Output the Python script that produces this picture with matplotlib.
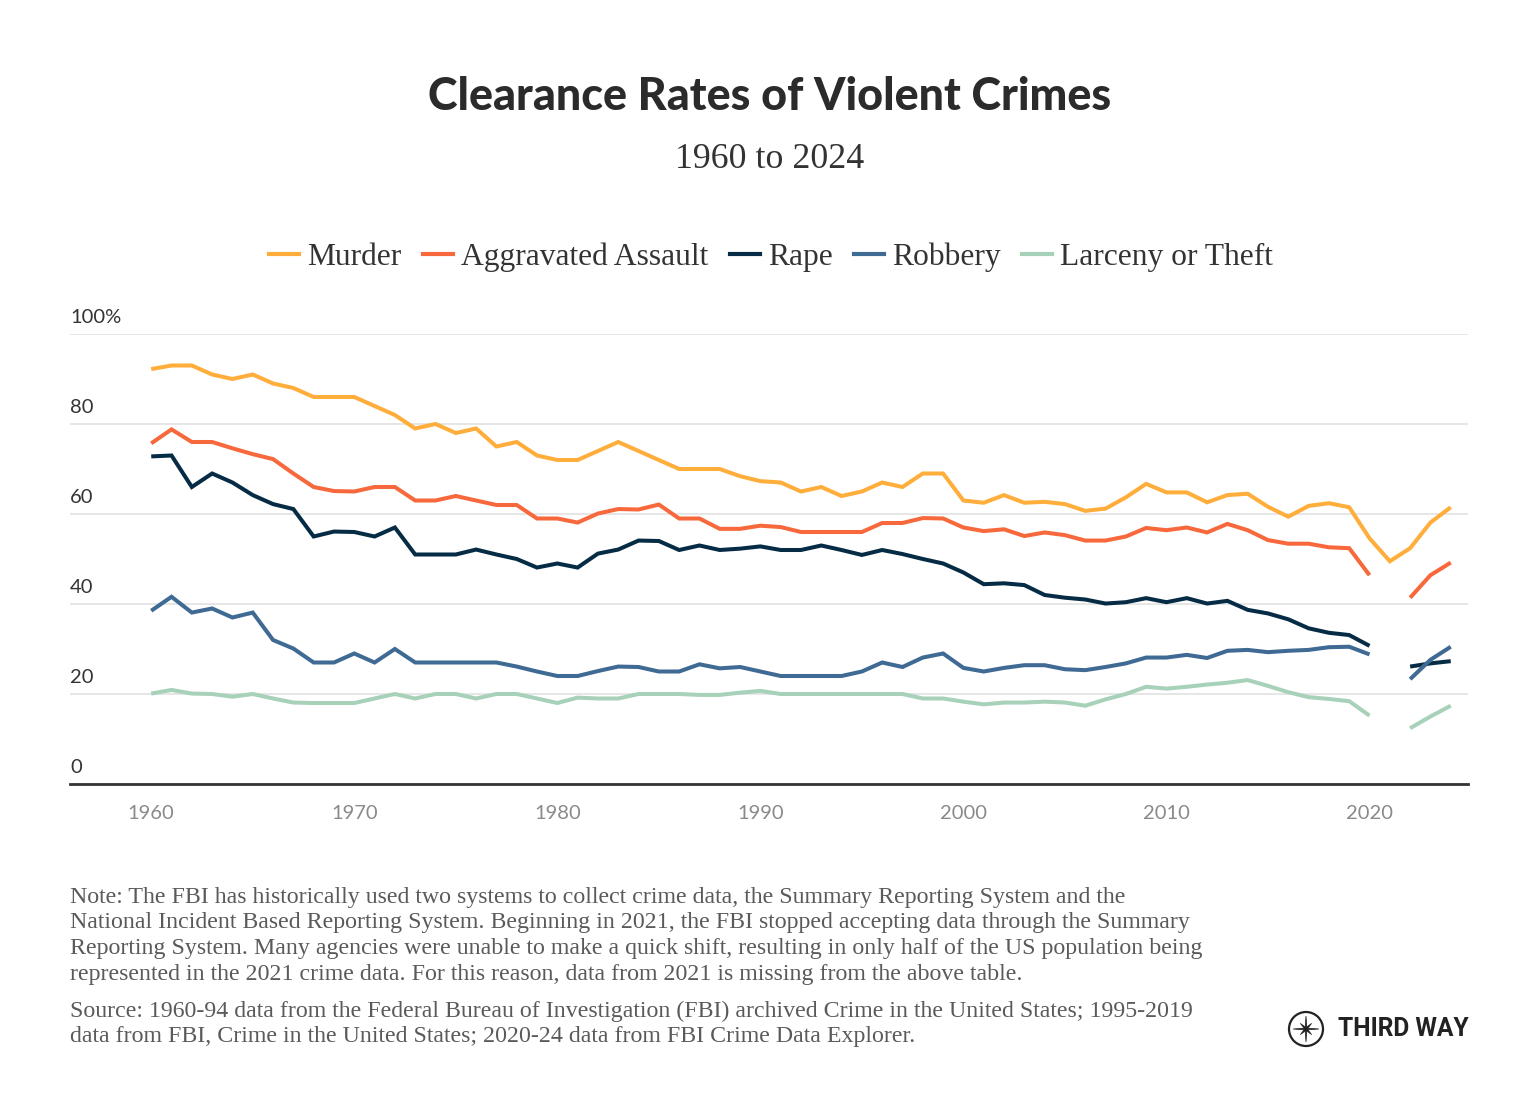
import numpy as np
import matplotlib
matplotlib.use("Agg")
import matplotlib.pyplot as plt
from matplotlib.lines import Line2D
from matplotlib.patches import Circle, Polygon

nan = np.nan
years = list(range(1960, 2025))

murder = [92.2, 93, 93, 91, 90, 91, 89, 88, 86, 86,
          86, 84, 82, 79, 80, 78, 79, 75, 76, 73,
          72, 72, 74, 76, 74, 72, 70, 70, 70, 68.4,
          67.3, 67, 65, 66, 64, 65, 67, 66, 69, 69,
          63, 62.5, 64.2, 62.5, 62.7, 62.2, 60.7, 61.2, 63.7, 66.7,
          64.8, 64.8, 62.6, 64.2, 64.5, 61.6, 59.4, 61.8, 62.4, 61.5,
          54.6, 49.5, 52.4, 58.1, 61.5]
assault = [75.7, 78.8, 76, 76, 74.6, 73.3, 72.2, 69, 66, 65.1,
           65, 66, 66, 63, 63, 64, 63, 62, 62, 59,
           59, 58.1, 60.1, 61.1, 61, 62.1, 59, 59, 56.7, 56.7,
           57.4, 57.1, 56, 56, 56, 56, 58, 58, 59.1, 59,
           57, 56.2, 56.6, 55.1, 55.9, 55.3, 54.1, 54.1, 55, 56.9,
           56.4, 57, 55.9, 57.8, 56.4, 54.2, 53.4, 53.4, 52.6, 52.4,
           46.4, nan, 41.4, 46.4, 49.2]
rape = [72.8, 73, 66, 69, 67, 64.2, 62.2, 61.1, 55, 56.1,
        56, 55, 57, 51, 51, 51, 52.1, 51, 50, 48.1,
        49, 48.1, 51.2, 52.1, 54.1, 54, 52, 53, 52, 52.3,
        52.8, 52, 52, 53, 52, 50.9, 52, 51.1, 50, 49,
        47, 44.4, 44.6, 44.2, 42, 41.4, 41, 40.1, 40.4, 41.3,
        40.4, 41.3, 40.1, 40.7, 38.7, 37.9, 36.6, 34.6, 33.6, 33.1,
        30.7, nan, 26.1, 26.8, 27.3]
robbery = [38.5, 41.6, 38.1, 39, 37, 38.1, 32, 30.1, 27, 27,
           29, 27, 30, 27, 27, 27, 27, 27, 26.1, 25,
           24, 24, 25.1, 26.1, 26, 25, 25, 26.6, 25.7, 26,
           25, 24, 24, 24, 24, 25, 27, 26, 28.1, 29,
           25.8, 25, 25.8, 26.4, 26.4, 25.5, 25.3, 26, 26.8, 28.1,
           28.1, 28.7, 28, 29.6, 29.8, 29.3, 29.6, 29.8, 30.4, 30.5,
           28.8, nan, 23.3, 27.6, 30.5]
larceny = [20.1, 20.9, 20.1, 20, 19.4, 20, 19, 18.1, 18, 18,
           18, 19, 20, 19, 20, 20, 19, 20, 20, 19,
           18, 19.2, 19, 19, 20, 20, 20, 19.8, 19.8, 20.3,
           20.7, 20, 20, 20, 20, 20, 20, 20, 19, 19,
           18.3, 17.7, 18.1, 18.1, 18.3, 18.1, 17.4, 18.8, 20, 21.6,
           21.2, 21.6, 22.1, 22.5, 23.1, 21.8, 20.4, 19.3, 18.9, 18.4,
           15.2, nan, 12.4, 15, 17.4]

series_names = ["Murder", "Aggravated Assault", "Rape", "Robbery", "Larceny or Theft"]
series_values = [murder, assault, rape, robbery, larceny]
colors = ["#FFAD3B", "#F7693C", "#062C45", "#3F6A93", "#A8D1B9"]

y_ticks = [0, 20, 40, 60, 80, 100]
y_tick_labels = ["0", "20", "40", "60", "80", "100%"]
x_ticks = [1960, 1970, 1980, 1990, 2000, 2010, 2020]

title = "Clearance Rates of Violent Crimes"
subtitle = "1960 to 2024"
note_lines = [
    "Note: The FBI has historically used two systems to collect crime data, the Summary Reporting System and the",
    "National Incident Based Reporting System. Beginning in 2021, the FBI stopped accepting data through the Summary",
    "Reporting System. Many agencies were unable to make a quick shift, resulting in only half of the US population being",
    "represented in the 2021 crime data. For this reason, data from 2021 is missing from the above table.",
]
source_lines = [
    "Source: 1960-94 data from the Federal Bureau of Investigation (FBI) archived Crime in the United States; 1995-2019",
    "data from FBI, Crime in the United States; 2020-24 data from FBI Crime Data Explorer.",
]

W, H = 1540, 1120
fig = plt.figure(figsize=(W / 100, H / 100), dpi=100)
fig.patch.set_facecolor("white")
renderer = fig.canvas.get_renderer()


def fx(x):
    return x / W


def fy(y):
    return 1 - y / H


def fit(t, width):
    bb = t.get_window_extent(renderer)
    t.set_fontsize(t.get_fontsize() * width / bb.width)
    return t.get_fontsize()


# axes: left 70px, right 1468px, y=100 at 334px, y=0 at 784px
ax = fig.add_axes([fx(70), fy(784), (1468 - 70) / W, (784 - 334) / H])
ax.set_xlim(1956, 2024.85)
ax.set_ylim(0, 100)
for s in ["top", "right", "left"]:
    ax.spines[s].set_visible(False)
ax.spines["bottom"].set_color("#333333")
ax.spines["bottom"].set_linewidth(2.0)
ax.spines["bottom"].set_zorder(5)
ax.set_yticks(y_ticks)
ax.set_yticklabels([])
ax.tick_params(axis="y", length=0)
ax.grid(axis="y", color="#E4E4E4", linewidth=1.3)
ax.set_axisbelow(True)
ax.set_xticks(x_ticks)
ax.set_xticklabels([str(v) for v in x_ticks], fontfamily="Lato", fontsize=14.5, color="#8A8A8A")
ax.tick_params(axis="x", length=0, pad=15)

yr = np.array(years)
for name, vals, c in zip(series_names, series_values, colors):
    ax.plot(yr, np.array(vals, dtype=float), color=c, linewidth=2.9, label=name,
            solid_joinstyle="miter", solid_capstyle="butt")

ytr = ax.get_yaxis_transform()
for v, lab in zip(y_ticks, y_tick_labels):
    ax.text(0, v + 2.4, lab, transform=ytr, ha="left", va="baseline",
            fontfamily="Lato", fontsize=14.5, color="#333333")

# title + subtitle
t = fig.text(fx(770), fy(97), title, ha="center", va="center",
             fontfamily="Lato", fontweight="black", fontsize=28, color="#2B2B2B")
fit(t, 683)
st = fig.text(fx(770), fy(160), subtitle, ha="center", va="center",
              fontfamily="Liberation Serif", fontsize=20, color="#333333")
fit(st, 188)

# legend
handles = [Line2D([], [], color=c, linewidth=3) for c in colors]
leg = fig.legend(handles, series_names, loc="center", bbox_to_anchor=(fx(771), fy(257)),
                 ncol=5, frameon=False, handlelength=0.95, handletextpad=0.26,
                 columnspacing=0.68, prop={"family": "Liberation Serif", "size": 22.7})
for txt in leg.get_texts():
    txt.set_color("#333333")

# notes
note_texts = []
for i, line in enumerate(note_lines):
    tt = fig.text(fx(70), fy(897 + i * 25.7), line, ha="left", va="center",
                  fontfamily="Liberation Serif", fontsize=15, color="#5A5A5A")
    note_texts.append(tt)
fs = fit(note_texts[2], 1136)
for tt in note_texts:
    tt.set_fontsize(fs)
for i, line in enumerate(source_lines):
    fig.text(fx(70), fy(1011 + i * 25.7), line, ha="left", va="center",
             fontfamily="Liberation Serif", fontsize=fs, color="#5A5A5A")

# logo
lx, ly, r = 1306, 1029, 17
logo_ax = fig.add_axes([0, 0, 1, 1], zorder=-1)
logo_ax.set_xlim(0, W)
logo_ax.set_ylim(H, 0)
logo_ax.axis("off")
logo_ax.add_patch(Circle((lx, ly), r, fill=False, edgecolor="#222222", linewidth=1.6))
pts = []
for k in range(16):
    ang = np.pi / 2 + k * np.pi / 8
    rr = 13 if k % 4 == 0 else (8 if k % 2 == 0 else 2.2)
    pts.append((lx + rr * np.cos(ang), ly - rr * np.sin(ang)))
logo_ax.add_patch(Polygon(pts, closed=True, facecolor="#222222", edgecolor="#222222", linewidth=0.5))
lt = fig.text(fx(1338), fy(1029), "THIRD WAY", ha="left", va="center",
              fontfamily="Roboto", fontweight="bold", fontsize=16, color="#222222")
fit(lt, 131)

fig.savefig("out.png", dpi=100, facecolor="white")
